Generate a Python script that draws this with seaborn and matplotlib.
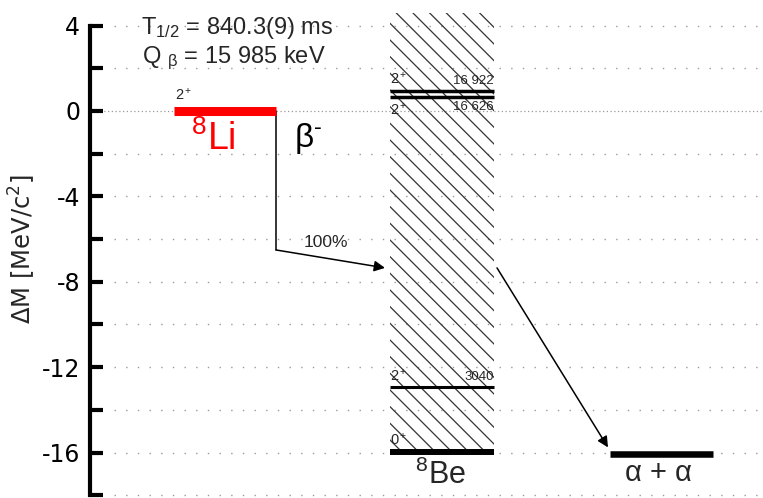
import matplotlib
matplotlib.use("Agg")
import matplotlib.pyplot as plt
import seaborn as sns

# Decay data: 8Li -> 8Be -> alpha + alpha
q_beta = 15.985                      # MeV
li_level = 0.0                       # 8Li ground state (reference)
li_spin = "2$^+$"
be_levels_kev = [0, 3040, 16626, 16922]
be_spins = ["0$^+$", "2$^+$", "2$^+$", "2$^+$"]
be_energy_labels = ["", "3040", "16 626", "16 922"]
alpha_alpha_kev = -92                # alpha+alpha threshold relative to 8Be g.s.
branch = "100%"
half_life = "T$_{1/2}$ = 840.3(9) ms"
q_text = "Q $_{\\beta}$ = 15 985 keV"

tick_values = [-18, -16, -14, -12, -10, -8, -6, -4, -2, 0, 2, 4]
tick_labels = ["", "-16", "", "-12", "", "-8", "", "-4", "", "0", "", "4"]

sns.set_style("white")
plt.rcParams["font.family"] = ["Liberation Sans", "DejaVu Sans"]
plt.rcParams["mathtext.fontset"] = "custom"
plt.rcParams["mathtext.rm"] = "Liberation Sans"
plt.rcParams["mathtext.it"] = "Liberation Sans:italic"
plt.rcParams["mathtext.bf"] = "Liberation Sans:bold"
plt.rcParams["mathtext.default"] = "regular"
plt.rcParams["axes.unicode_minus"] = False
plt.rcParams["hatch.linewidth"] = 0.9

be_abs = [-q_beta + e / 1000 for e in be_levels_kev]
be_ground = be_abs[0]
aa_level = be_ground + alpha_alpha_kev / 1000

# horizontal layout of the columns
li_x = (0.84, 1.86)
be_x = (3.00, 4.04)
aa_x = (5.20, 6.23)

fig = plt.figure(figsize=(7.63, 4.98), dpi=100)
ax = fig.add_axes([90 / 763, 0, 673 / 763, 1])
ax.set_xlim(0, 6.73)
ax.set_ylim(-18.13, 5.2)

# dotted guide lines
grid_y = [v for v in tick_values if v != 0]
ax.hlines(grid_y, 0.24, 6.73, colors="#9a9a9a", linewidth=1.0,
          linestyles=(0, (1, 7.4)), zorder=0)
ax.hlines([0], 0.10, 6.73, colors="#9a9a9a", linewidth=0.9,
          linestyles=(0, (1, 2.0)), zorder=0)

# hatched continuum region of 8Be
ax.bar((be_x[0] + be_x[1]) / 2, 4.59 - be_ground, bottom=be_ground,
       width=be_x[1] - be_x[0], facecolor="none", edgecolor="#333333",
       linewidth=0, hatch="\\\\", zorder=1)

# 8Li level
ax.hlines(li_level, *li_x, colors="red", linewidth=6.5, zorder=3)
ax.annotate(li_spin, (li_x[0], li_level), xytext=(1, 6), textcoords="offset points",
            fontsize=10.5, ha="left", va="bottom")
ax.text(1.23, -1.30, "$^{8}$Li", color="red", fontsize=27, ha="center", va="center")
ax.text(2.04, -1.30, "β$^{\\text{-}}$", color="black", fontsize=24, ha="left", va="center")

# 8Be levels
be_widths = [4.3, 2.2, 2.5, 2.5]
for lvl, spin, lab, lw in zip(be_abs, be_spins, be_energy_labels, be_widths):
    if lab == "16 626":
        off, va = -3, "top"
    else:
        off, va = 3, "bottom"
    ax.hlines(lvl, *be_x, colors="black", linewidth=lw, zorder=3)
    ax.annotate(spin, (be_x[0], lvl), xytext=(0, off), textcoords="offset points",
                fontsize=10.5, ha="left", va=va, zorder=4)
    if lab:
        ax.annotate(lab, (be_x[1], lvl), xytext=(0, off), textcoords="offset points",
                    fontsize=9.5, ha="right", va=va, zorder=4)
ax.text(3.50, -17.05, "$^{8}$Be", fontsize=22, ha="center", va="center")

# alpha + alpha
ax.hlines(aa_level, *aa_x, colors="black", linewidth=4.7, zorder=3)
ax.text(5.68, -16.95, "α + α", fontsize=21, ha="center", va="center")

# decay arrows
ax.plot([li_x[1], li_x[1]], [li_level, -6.51], color="black", linewidth=1.1)
ax.annotate("", xy=(2.95, -7.35), xytext=(li_x[1], -6.51),
            arrowprops=dict(arrowstyle="-|>", color="black", lw=1.1,
                            mutation_scale=16, shrinkA=0, shrinkB=0))
ax.text(2.36, -6.14, branch, fontsize=12.5, ha="center", va="center")
ax.annotate("", xy=(5.18, -15.76), xytext=(4.07, -7.35),
            arrowprops=dict(arrowstyle="-|>", color="black", lw=1.1,
                            mutation_scale=16, shrinkA=0, shrinkB=0))

# header text
ax.text(1.47, 3.90, half_life, fontsize=17, ha="center", va="center")
ax.text(1.44, 2.45, q_text, fontsize=17, ha="center", va="center")

# axis styling
sns.despine(ax=ax, top=True, right=True, bottom=True)
ax.spines["left"].set_bounds(-18, 4)
ax.spines["left"].set_linewidth(3)
ax.spines["left"].set_color("black")
ax.set_xticks([])
ax.set_yticks(tick_values)
ax.set_yticklabels(tick_labels, fontfamily="DejaVu Sans")
ax.tick_params(axis="y", direction="in", length=9, width=3, pad=7,
               labelsize=17, colors="black", left=True)
ax.set_ylabel("ΔM [MeV/c$^2$]", fontsize=17.5, fontfamily="DejaVu Sans")
ax.yaxis.set_label_coords(-0.077, 0.5)
ax.patch.set_alpha(0)

fig.savefig("out.png", dpi=100)
